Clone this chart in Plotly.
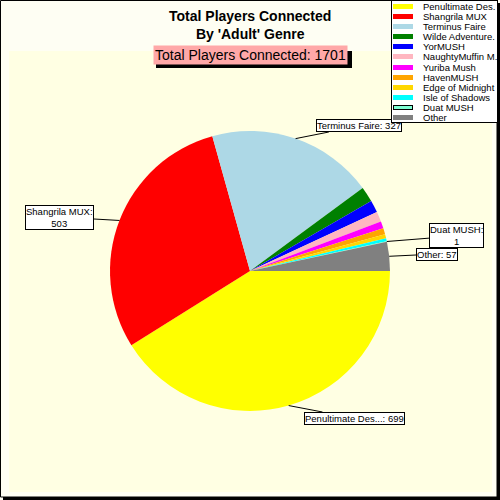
import math
import plotly.graph_objects as go

# ---- data ----
games = ["Penultimate Des.", "Shangrila MUX", "Terminus Faire", "Wilde Adventure.",
         "YorMUSH", "NaughtyMuffin M.", "Yuriba Mush", "HavenMUSH",
         "Edge of Midnight", "Isle of Shadows", "Duat MUSH", "Other"]
players = [699, 503, 327, 30, 24, 20, 14, 12, 8, 6, 1, 57]
colors = ["#FFFF00", "#FF0000", "#ADD8E6", "#008000", "#0000FF", "#FFB6C1",
          "#FF00FF", "#FFA500", "#FFD700", "#00FFFF", "#7FFFD4", "#808080"]
slice_labels = {
    "Penultimate Des.": "Penultimate Des...: 699",
    "Shangrila MUX": "Shangrila MUX:<br>503",
    "Terminus Faire": "Terminus Faire: 327",
    "Duat MUSH": "Duat MUSH:<br>1",
    "Other": "Other: 57",
}
title_text = "Total Players Connected<br>By 'Adult' Genre"
total_text = "Total Players Connected: %d" % sum(players)

W = H = 500
FONT = "Arial, Liberation Sans, sans-serif"

# pie geometry (pixels)
cx, cy, r = 250, 271, 140
dom_x = [(cx - r) / W, (cx + r) / W]
dom_y = [1 - (cy + r) / H, 1 - (cy - r) / H]

fig = go.Figure(go.Pie(
    labels=games, values=players, sort=False, direction="clockwise",
    rotation=90, textinfo="none", hoverinfo="label+value",
    marker=dict(colors=colors, line=dict(width=0)),
    domain=dict(x=dom_x, y=dom_y), showlegend=False,
))

shapes = []
annotations = []

# background panels
shapes.append(dict(type="rect", xref="paper", yref="paper", x0=9/W, x1=492/W,
                   y0=1-492/H, y1=1-51/H, fillcolor="#FFFFE3", line=dict(width=0), layer="below"))
# outer frame
shapes.append(dict(type="rect", xref="paper", yref="paper", x0=0.5/W, x1=497/W,
                   y0=1-497/H, y1=1-0.5/H, line=dict(color="black", width=1), layer="below"))
shapes.append(dict(type="rect", xref="paper", yref="paper", x0=497/W, x1=1,
                   y0=0, y1=1-3/H, fillcolor="black", line=dict(width=0)))
shapes.append(dict(type="rect", xref="paper", yref="paper", x0=3/W, x1=1,
                   y0=0, y1=3/H, fillcolor="black", line=dict(width=0)))

# title
annotations.append(dict(text="<b>" + title_text + "</b>", x=0.5, y=1-25/H, xref="paper", yref="paper",
                        showarrow=False, font=dict(family=FONT, size=14, color="black"), xanchor="center", yanchor="middle"))
# total box with shadow
shapes.append(dict(type="rect", xref="paper", yref="paper", x0=156/W, x1=352/W,
                   y0=1-68/H, y1=1-51/H, fillcolor="black", line=dict(width=0)))
annotations.append(dict(text=total_text, x=250.5/W, y=1-55/H, xref="paper", yref="paper",
                        showarrow=False, font=dict(family=FONT, size=14, color="black"),
                        bgcolor="#FFA8A8", borderpad=1, xanchor="center", yanchor="middle"))

# slice labels with leader lines
box_pos = {"Penultimate Des.": (354, 418), "Shangrila MUX": (59, 217), "Terminus Faire": (359, 126),
           "Duat MUSH": (456, 236), "Other": (437, 254)}
total = sum(players)
cum = 0.0
for g, v in zip(games, players):
    a0 = cum
    cum += v
    if g in slice_labels:
        mid = (a0 + v / 2) / total * 2 * math.pi
        px, py = cx + r * math.cos(mid), cy + r * math.sin(mid)
        bx, by = box_pos[g]
        annotations.append(dict(text=slice_labels[g], x=px/W, y=1-py/H, xref="paper", yref="paper",
                                showarrow=True, arrowhead=0, arrowwidth=1, arrowcolor="black",
                                ax=bx-px, ay=by-py, standoff=0,
                                bgcolor="white", bordercolor="black", borderwidth=1, borderpad=0,
                                font=dict(family=FONT, size=9.5, color="black")))

# custom legend (drawn on top of labels)
annotations.append(dict(text=" ", x=391/W, y=1, xref="paper", yref="paper", showarrow=False,
                        xanchor="left", yanchor="top", width=105, height=121, borderpad=0,
                        bgcolor="white", bordercolor="black", borderwidth=1))
for i, (g, c) in enumerate(zip(games, colors)):
    yc = 6.7 + 10.05 * i
    is_duat = g == "Duat MUSH"
    annotations.append(dict(text=" ", x=393/W, y=1-yc/H, xref="paper", yref="paper", showarrow=False,
                            xanchor="left", yanchor="middle", width=18 if is_duat else 20,
                            height=3 if is_duat else 5, borderpad=0,
                            bgcolor=c, bordercolor="black" if is_duat else c, borderwidth=1 if is_duat else 0,
                            font=dict(size=2)))
    annotations.append(dict(text=g, x=421/W, y=1-yc/H, xref="paper", yref="paper", showarrow=False,
                            xanchor="left", yanchor="middle", font=dict(family=FONT, size=9.5, color="black")))

fig.update_layout(width=W, height=H, margin=dict(l=0, r=0, t=0, b=0),
                  paper_bgcolor="#FEFEF3", plot_bgcolor="#FEFEF3",
                  shapes=shapes, annotations=annotations, showlegend=False)
fig.write_html("out.html", config={"displayModeBar": False},
               post_script="document.body.style.margin='0';document.body.style.overflow='hidden';")
